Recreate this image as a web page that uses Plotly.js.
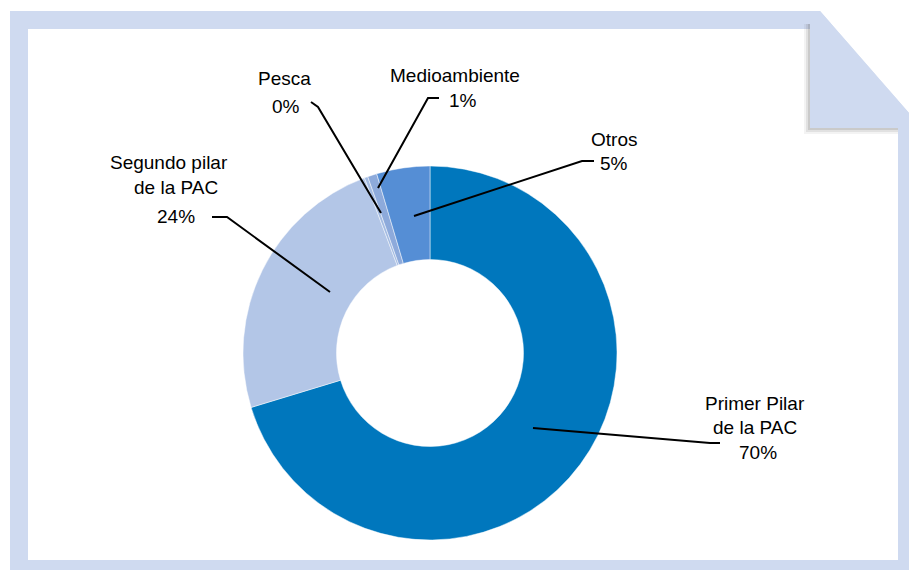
<!DOCTYPE html>
<html>
<head>
<meta charset="utf-8">
<script src="https://cdn.plot.ly/plotly-3.0.1.min.js"></script>
<style>html,body{margin:0;padding:0;background:#fff}#chart{width:909px;height:570px}</style>
</head>
<body>
<div id="chart"></div>
<script>
// Data
const categories = ["Primer Pilar de la PAC", "Segundo pilar de la PAC", "Pesca", "Medioambiente", "Otros"];
const labelLines = [["Primer Pilar", "de la PAC"], ["Segundo pilar", "de la PAC"], ["Pesca"], ["Medioambiente"], ["Otros"]];
const values = [70.3, 24.0, 0.3, 0.8, 4.6];
const colors = ["#0077BD", "#B3C6E7", "#A3BBE2", "#8DAADB", "#558ED5"];

const W = 909, H = 570;
const px = x => x / W;
const py = y => 1 - y / H;
const FONT = "'Liberation Sans', Arial, sans-serif";

// Label line positions (pixel centres) and leader lines
const labelPos = [
  {lines: [[755, 403], [755, 427], [758, 452]], pts: [[533, 428], [710, 443], [720, 443]]},
  {lines: [[169, 162], [176, 187], [176, 216]], pts: [[212, 217], [227, 217], [330, 292]]},
  {lines: [[284, 79], [286, 106]], pts: [[311, 102], [318, 107], [381, 213]]},
  {lines: [[455, 76], [463, 100]], pts: [[439, 98], [428, 98], [378, 188]]},
  {lines: [[614, 139], [614, 163]], pts: [[594, 161], [582, 161], [414, 216]]}
];

const total = values.reduce((a, b) => a + b, 0);
const annotations = [];
categories.forEach((c, i) => {
  const texts = labelLines[i].concat([Math.round(values[i] / total * 100) + '%']);
  texts.forEach((t, j) => {
    annotations.push({
      xref: 'paper', yref: 'paper',
      x: px(labelPos[i].lines[j][0]), y: py(labelPos[i].lines[j][1]),
      xanchor: 'center', yanchor: 'middle',
      text: t, showarrow: false,
      font: {family: FONT, size: 19, color: '#000'}
    });
  });
});

const shapes = [];
// frame
shapes.push({type: 'path', xref: 'paper', yref: 'paper', layer: 'below',
  path: `M ${px(10)} ${py(11)} L ${px(820)} ${py(11)} L ${px(909)} ${py(113)} L ${px(909)} ${py(570)} L ${px(10)} ${py(570)} Z`,
  fillcolor: '#CFDAF0', line: {width: 0}});
shapes.push({type: 'path', xref: 'paper', yref: 'paper', layer: 'below',
  path: `M ${px(28)} ${py(29)} L ${px(835)} ${py(29)} L ${px(898)} ${py(101)} L ${px(898)} ${py(560)} L ${px(28)} ${py(560)} Z`,
  fillcolor: '#FFFFFF', line: {width: 0}});
// flap shadow (left and bottom strips)
[[6, 0.08], [4, 0.12], [2, 0.18]].forEach(([o, a]) => {
  shapes.push({type: 'path', xref: 'paper', yref: 'paper', layer: 'below',
    path: `M ${px(810 - o)} ${py(24)} L ${px(810)} ${py(24)} L ${px(810)} ${py(128)} L ${px(898)} ${py(128)} L ${px(898)} ${py(128 + o)} L ${px(810 - o)} ${py(128 + o)} Z`,
    fillcolor: `rgba(100,100,100,${a})`, line: {width: 0}});
});
// flap
shapes.push({type: 'path', xref: 'paper', yref: 'paper', layer: 'below',
  path: `M ${px(810)} ${py(22)} L ${px(820)} ${py(11)} L ${px(909)} ${py(113)} L ${px(909)} ${py(128)} L ${px(810)} ${py(128)} Z`,
  fillcolor: '#CFDAF0', line: {width: 0}});
// leader lines
labelPos.forEach(l => {
  shapes.push({type: 'path', xref: 'paper', yref: 'paper', layer: 'above',
    path: l.pts.map((p, j) => (j ? 'L ' : 'M ') + px(p[0]) + ' ' + py(p[1])).join(' '),
    line: {color: '#000', width: 2}});
});

const trace = {
  type: 'pie',
  labels: categories,
  values: values,
  sort: false,
  direction: 'clockwise',
  rotation: 0,
  hole: 0.5,
  textinfo: 'none',
  marker: {colors: colors, line: {color: 'rgba(255,255,255,0.6)', width: 0.8}},
  domain: {x: [px(430 - 187), px(430 + 187)], y: [py(540), py(166)]},
  showlegend: false,
  hoverinfo: 'label+percent'
};

Plotly.newPlot('chart', [trace], {
  width: W, height: H,
  margin: {l: 0, r: 0, t: 0, b: 0},
  paper_bgcolor: '#FFFFFF',
  showlegend: false,
  shapes: shapes,
  annotations: annotations
}, {displayModeBar: false, staticPlot: true});
</script>
</body>
</html>
